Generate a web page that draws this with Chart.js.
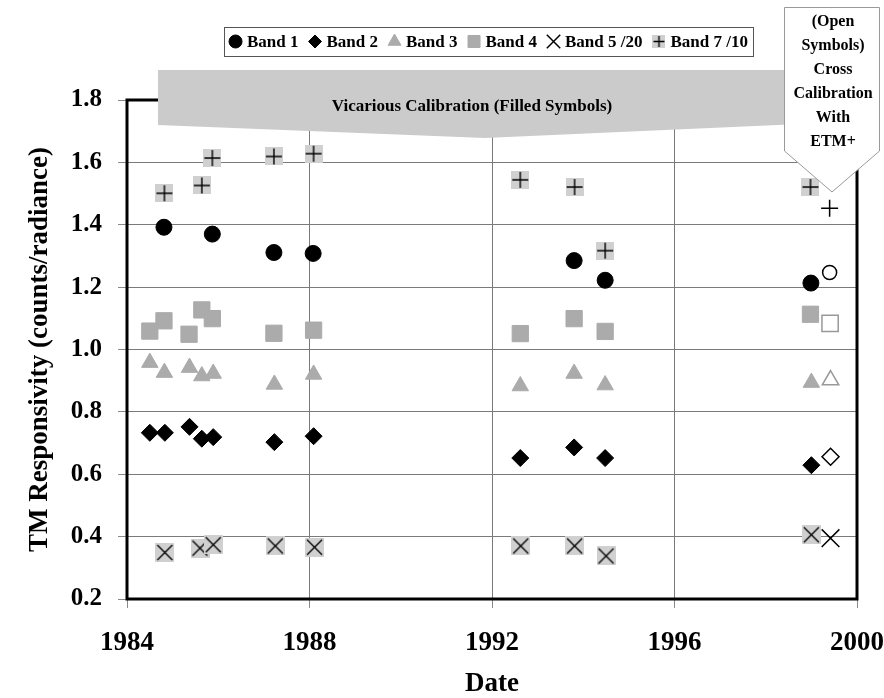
<!DOCTYPE html>
<html>
<head>
<meta charset="utf-8">
<title>TM Responsivity</title>
<script src="https://cdn.jsdelivr.net/npm/chart.js@4.4.1/dist/chart.umd.min.js"></script>
<style>
  html, body { margin: 0; padding: 0; background: #fff; }
  #wrap { width: 884px; height: 698px; }
</style>
</head>
<body>
<div id="wrap"><canvas id="c" width="884" height="698"></canvas></div>
<script>
// Axis ticks
const xTickYears = [1984, 1988, 1992, 1996, 2000];
const yTickValues = [0.2, 0.4, 0.6, 0.8, 1.0, 1.2, 1.4, 1.6, 1.8];

// Band labels
const bandLabels = ['Band 1', 'Band 2', 'Band 3', 'Band 4', 'Band 5 /20', 'Band 7 /10'];

// Vicarious calibration results (decimal year, responsivity)
const band1Dates  = [1984.81, 1985.87, 1987.22, 1988.08, 1993.80, 1994.48, 1998.99];
const band1Values = [1.392, 1.370, 1.311, 1.308, 1.285, 1.222, 1.213];

const band2Dates  = [1984.50, 1984.83, 1985.37, 1985.64, 1985.89, 1987.23, 1988.09, 1992.62, 1993.80, 1994.48, 1999.00];
const band2Values = [0.733, 0.733, 0.752, 0.714, 0.719, 0.703, 0.722, 0.652, 0.686, 0.652, 0.629];

const band3Dates  = [1984.50, 1984.82, 1985.37, 1985.64, 1985.89, 1987.23, 1988.09, 1992.62, 1993.80, 1994.48, 1999.00];
const band3Values = [0.958, 0.926, 0.942, 0.915, 0.923, 0.888, 0.920, 0.883, 0.923, 0.886, 0.894];

const band4Dates  = [1984.50, 1984.81, 1985.36, 1985.64, 1985.87, 1987.22, 1988.09, 1992.62, 1993.80, 1994.48, 1998.98];
const band4Values = [1.059, 1.092, 1.049, 1.127, 1.099, 1.052, 1.062, 1.051, 1.099, 1.058, 1.113];

const band5Dates  = [1984.83, 1985.60, 1985.89, 1987.25, 1988.11, 1992.63, 1993.81, 1994.50, 1999.00];
const band5Values = [0.349, 0.363, 0.374, 0.370, 0.366, 0.370, 0.370, 0.338, 0.406];

const band7Dates  = [1984.82, 1985.64, 1985.87, 1987.22, 1988.09, 1992.62, 1993.81, 1994.48, 1998.98];
const band7Values = [1.501, 1.526, 1.614, 1.619, 1.628, 1.544, 1.521, 1.317, 1.521];

// Cross calibration with ETM+ (one point per band, same band order)
const etmDates  = [1999.40, 1999.42, 1999.42, 1999.41, 1999.42, 1999.40];
const etmValues = [1.247, 0.656, 0.902, 1.084, 0.395, 1.453];

// Annotation texts
const bannerText = 'Vicarious Calibration (Filled Symbols)';
const calloutLines = ['(Open', 'Symbols)', 'Cross', 'Calibration', 'With', 'ETM+'];
const xTitle = 'Date';
const yTitle = 'TM Responsivity (counts/radiance)';

// ---------------------------------------------------------------
const FONT = '"Liberation Serif", "Times New Roman", serif';
const GRAY = '#ababab';
const LIGHT = '#d0d0d0';

const pts = (xs, ys) => xs.map((x, i) => ({ x, y: ys[i] }));

// Small gray tile with a black glyph on it (used for bands 5 and 7)
function boxedGlyph(size, kind, bg) {
  const c = document.createElement('canvas');
  c.width = c.height = size;
  const g = c.getContext('2d');
  if (bg) { g.fillStyle = bg; g.fillRect(0, 0, size, size); }
  g.strokeStyle = '#000';
  g.lineWidth = 1.4;
  g.beginPath();
  if (kind === 'x') {
    g.moveTo(2, 2); g.lineTo(size - 2, size - 2);
    g.moveTo(size - 2, 2); g.lineTo(2, size - 2);
  } else {
    const m = size / 2;
    g.moveTo(m, 1); g.lineTo(m, size - 1);
    g.moveTo(1, m); g.lineTo(size - 1, m);
  }
  g.stroke();
  return c;
}
const xTile = boxedGlyph(19, 'x', LIGHT);
const plusTile = boxedGlyph(18, '+', LIGHT);
const plusTileSmall = boxedGlyph(13, '+', LIGHT);

const filled = (label, data, style, radius, color, legendSymbol) => ({
  label, data, pointStyle: style, pointRadius: radius,
  backgroundColor: color, borderColor: color, pointBorderWidth: 1,
  showLine: false, legendSymbol
});
const open = (label, x, y, style, radius, color) => ({
  label, data: [{ x, y }], pointStyle: style, pointRadius: radius,
  backgroundColor: '#fff', borderColor: color, pointBorderWidth: 1.5, showLine: false
});

const datasets = [
  filled(bandLabels[0], pts(band1Dates, band1Values), 'circle', 8, '#000',
    { style: 'circle', radius: 6.5, fill: '#000', stroke: '#000' }),
  filled(bandLabels[1], pts(band2Dates, band2Values), 'rectRot', 8.5, '#000',
    { style: 'rectRot', radius: 6.5, fill: '#000', stroke: '#000' }),
  filled(bandLabels[2], pts(band3Dates, band3Values), 'triangle', 9.5, GRAY,
    { style: 'triangle', radius: 7.5, fill: GRAY, stroke: GRAY }),
  filled(bandLabels[3], pts(band4Dates, band4Values), 'rect', 11.5, GRAY,
    { style: 'rect', radius: 8.5, fill: GRAY, stroke: GRAY }),
  filled(bandLabels[4], pts(band5Dates, band5Values), xTile, 10, '#000',
    { style: 'crossRot', radius: 9.5, fill: '#000', stroke: '#000', lineWidth: 1.5 }),
  filled(bandLabels[5], pts(band7Dates, band7Values), plusTile, 9, '#000',
    { style: plusTileSmall, radius: 7, fill: '#000', stroke: '#000' }),
  open(bandLabels[0] + ' ETM+', etmDates[0], etmValues[0], 'circle', 7, '#000'),
  open(bandLabels[1] + ' ETM+', etmDates[1], etmValues[1], 'rectRot', 8.5, '#000'),
  open(bandLabels[2] + ' ETM+', etmDates[2], etmValues[2], 'triangle', 9.5, '#999'),
  open(bandLabels[3] + ' ETM+', etmDates[3], etmValues[3], 'rect', 11.5, '#999'),
  open(bandLabels[4] + ' ETM+', etmDates[4], etmValues[4], 'crossRot', 12.5, '#000'),
  open(bandLabels[5] + ' ETM+', etmDates[5], etmValues[5], 'cross', 8.5, '#000')
];

// Thick frame round the plotting area
const framePlugin = {
  id: 'frame',
  afterDatasetsDraw(chart) {
    const { ctx, chartArea: a } = chart;
    ctx.save();
    ctx.strokeStyle = '#000';
    ctx.lineWidth = 3;
    ctx.strokeRect(a.left, a.top, a.right - a.left, a.bottom - a.top);
    ctx.restore();
  }
};

// Gray banner, ETM+ callout and boxed legend
const notesPlugin = {
  id: 'notes',
  afterDraw(chart) {
    const ctx = chart.ctx;
    ctx.save();

    // banner
    ctx.fillStyle = '#cbcbcb';
    ctx.beginPath();
    ctx.moveTo(158, 70);
    ctx.lineTo(800, 70);
    ctx.lineTo(800, 124);
    ctx.lineTo(485, 138);
    ctx.lineTo(158, 125);
    ctx.closePath();
    ctx.fill();
    ctx.fillStyle = '#000';
    ctx.font = 'bold 17px ' + FONT;
    ctx.textAlign = 'center';
    ctx.textBaseline = 'middle';
    ctx.fillText(bannerText, 472, 107);

    // callout
    ctx.fillStyle = '#fff';
    ctx.strokeStyle = '#999';
    ctx.lineWidth = 1;
    ctx.beginPath();
    ctx.moveTo(784.5, 7.5);
    ctx.lineTo(879.5, 7.5);
    ctx.lineTo(879.5, 151);
    ctx.lineTo(832, 192);
    ctx.lineTo(784.5, 151);
    ctx.closePath();
    ctx.fill();
    ctx.stroke();
    ctx.fillStyle = '#000';
    ctx.font = 'bold 16px ' + FONT;
    calloutLines.forEach((t, i) => ctx.fillText(t, 833, 22 + i * 23.9));

    // legend
    const sets = chart.data.datasets.filter(d => d.legendSymbol);
    ctx.font = 'bold 17px ' + FONT;
    ctx.textAlign = 'left';
    const symW = 13, symGap = 5, itemGap = 10;
    const widths = sets.map(d => ctx.measureText(d.label).width);
    const total = widths.reduce((s, w) => s + symW + symGap + w, 0) + itemGap * (sets.length - 1);
    const box = { left: 224, right: 753, top: 27, bottom: 56 };
    ctx.strokeStyle = '#555';
    ctx.lineWidth = 1;
    ctx.strokeRect(box.left + 0.5, box.top + 0.5, box.right - box.left, box.bottom - box.top);
    let x = (box.left + box.right) / 2 - total / 2;
    const y = (box.top + box.bottom) / 2;
    sets.forEach((d, i) => {
      const s = d.legendSymbol;
      ctx.fillStyle = s.fill;
      ctx.strokeStyle = s.stroke;
      ctx.lineWidth = s.lineWidth || 1;
      Chart.helpers.drawPoint(ctx, {
        pointStyle: s.style, radius: s.radius, rotation: 0, borderWidth: s.lineWidth || 1
      }, x + symW / 2, y);
      ctx.fillStyle = '#000';
      ctx.fillText(d.label, x + symW + symGap, y + 1);
      x += symW + symGap + widths[i] + itemGap;
    });
    ctx.restore();
  }
};

new Chart(document.getElementById('c'), {
  type: 'scatter',
  data: { datasets },
  options: {
    responsive: false,
    animation: false,
    events: [],
    layout: { padding: { left: 12, right: 27, top: 100, bottom: 0 } },
    plugins: { legend: { display: false }, tooltip: { enabled: false } },
    scales: {
      x: {
        type: 'linear',
        min: xTickYears[0],
        max: xTickYears[xTickYears.length - 1],
        afterBuildTicks: s => { s.ticks = xTickYears.map(v => ({ value: v })); },
        afterFit: s => { s.height = 99; s.paddingLeft = 0; s.paddingRight = 0; },
        grid: { color: '#7a7a7a', lineWidth: 1, tickLength: 9, tickColor: '#8a8a8a' },
        border: { display: false },
        ticks: {
          color: '#000', padding: 19, maxRotation: 0,
          font: { family: FONT, size: 27, weight: 'bold' },
          callback: v => String(v)
        },
        title: {
          display: true, text: xTitle, color: '#000',
          font: { family: FONT, size: 27, weight: 'bold', lineHeight: 1 },
          padding: { top: 0, bottom: 0 }
        }
      },
      y: {
        type: 'linear',
        min: yTickValues[0],
        max: yTickValues[yTickValues.length - 1],
        afterBuildTicks: s => { s.ticks = yTickValues.map(v => ({ value: v })); },
        afterFit: s => { s.width = 115; s.paddingTop = 0; s.paddingBottom = 0; },
        grid: { color: '#7a7a7a', lineWidth: 1, tickLength: 9, tickColor: '#8a8a8a' },
        border: { display: false },
        ticks: {
          color: '#000', padding: 16,
          font: { family: FONT, size: 25, weight: 'bold' },
          callback: v => Number(v).toFixed(1)
        },
        title: {
          display: true, text: yTitle, color: '#000',
          font: { family: FONT, size: 27, weight: 'bold', lineHeight: 1 },
          padding: { top: 14.5, bottom: 0 }
        }
      }
    }
  },
  plugins: [framePlugin, notesPlugin]
});
</script>
</body>
</html>
